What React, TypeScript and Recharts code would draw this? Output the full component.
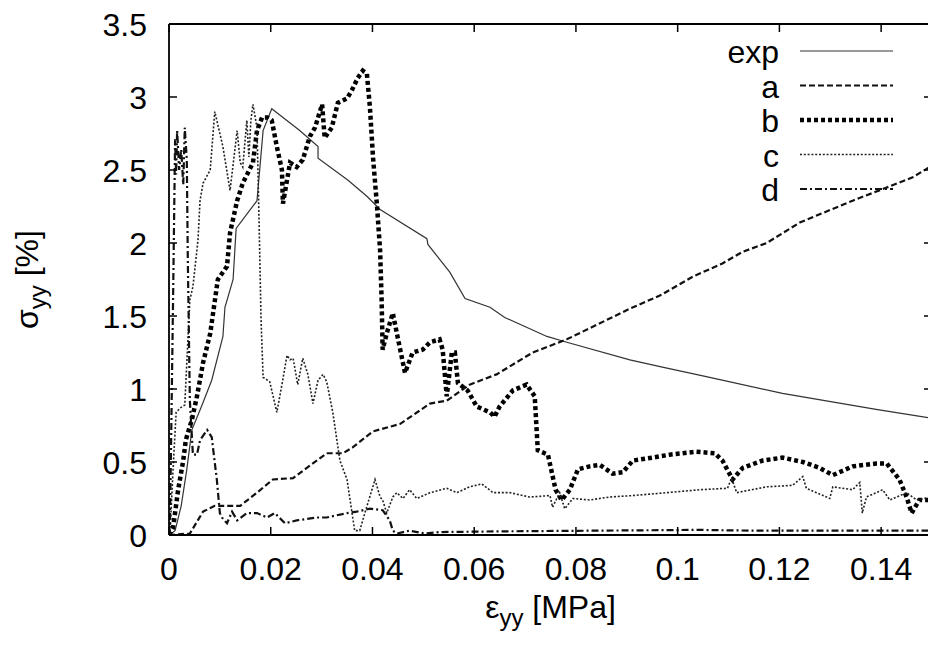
import React from "react";
import { LineChart, Line, XAxis, YAxis } from "recharts";

// tick values and labels
const xTicks = [0, 0.02, 0.04, 0.06, 0.08, 0.1, 0.12, 0.14];
const xTickLabels = ["0", "0.02", "0.04", "0.06", "0.08", "0.1", "0.12", "0.14"];
const yTicks = [0, 0.5, 1, 1.5, 2, 2.5, 3, 3.5];
const yTickLabels = ["0", "0.5", "1", "1.5", "2", "2.5", "3", "3.5"];

const seriesNames = ["exp", "a", "b", "c", "d"];

// [strain, stress]
const expPts: [number, number][] = [
  [0, 0], [0.0012, 0.03], [0.0024, 0.2], [0.0035, 0.45], [0.0045, 0.72], [0.0065, 0.89],
  [0.0084, 1.06], [0.0106, 1.36], [0.011, 1.56], [0.0126, 1.75], [0.0132, 2.1], [0.0173, 2.29],
  [0.0185, 2.77], [0.0202, 2.92], [0.0257, 2.77], [0.0293, 2.66], [0.0293, 2.58], [0.0352, 2.43],
  [0.0389, 2.32], [0.0415, 2.23], [0.0507, 2.03], [0.0509, 1.99], [0.0552, 1.8], [0.0582, 1.62],
  [0.0631, 1.56], [0.066, 1.49], [0.0743, 1.36], [0.0782, 1.32], [0.0906, 1.2], [0.097, 1.15],
  [0.1063, 1.08], [0.1206, 0.97], [0.139, 0.86], [0.15, 0.8],
];

const aPts: [number, number][] = [
  [0, 0], [0.0041, 0.01], [0.0067, 0.16], [0.009, 0.2], [0.014, 0.2], [0.0173, 0.29],
  [0.0204, 0.38], [0.0244, 0.39], [0.0271, 0.46], [0.031, 0.56], [0.0342, 0.56], [0.0361, 0.6],
  [0.0401, 0.71], [0.0454, 0.76], [0.0513, 0.9], [0.0546, 0.92], [0.0591, 1.03], [0.0644, 1.1],
  [0.0715, 1.25], [0.0782, 1.34], [0.0841, 1.44], [0.0906, 1.55], [0.0965, 1.64], [0.103, 1.77],
  [0.1088, 1.86], [0.1128, 1.94], [0.1175, 2.0], [0.124, 2.14], [0.1344, 2.29], [0.1411, 2.38],
  [0.1462, 2.45], [0.15, 2.53],
];

const bPts: [number, number][] = [
  [0, 0], [0.0008, 0.05], [0.0018, 0.31], [0.0028, 0.51], [0.0033, 0.65], [0.0045, 0.79],
  [0.0055, 0.95], [0.0067, 1.18], [0.0081, 1.38], [0.0096, 1.75], [0.0114, 1.84], [0.012, 2.07],
  [0.0134, 2.29], [0.0145, 2.41], [0.0165, 2.55], [0.0173, 2.77], [0.0183, 2.86], [0.0193, 2.86],
  [0.0202, 2.84], [0.0212, 2.66], [0.0222, 2.5], [0.0224, 2.27], [0.0238, 2.55], [0.0251, 2.52],
  [0.0263, 2.57], [0.0277, 2.73], [0.0287, 2.79], [0.0301, 2.95], [0.0306, 2.72], [0.032, 2.79],
  [0.0332, 2.96], [0.035, 2.99], [0.036, 3.05], [0.0371, 3.13], [0.0381, 3.18], [0.0389, 3.16],
  [0.0395, 2.93], [0.0401, 2.59], [0.0409, 2.25], [0.0415, 1.95], [0.0418, 1.61], [0.042, 1.27],
  [0.0428, 1.38], [0.044, 1.52], [0.0448, 1.38], [0.0464, 1.11], [0.0479, 1.25], [0.0499, 1.27],
  [0.0513, 1.32], [0.0532, 1.34], [0.0538, 1.27], [0.0546, 0.95], [0.0556, 1.25], [0.0562, 1.25],
  [0.0568, 1.04], [0.0587, 0.99], [0.0605, 0.88], [0.0631, 0.84], [0.064, 0.81], [0.065, 0.88],
  [0.0676, 0.99], [0.0703, 1.03], [0.0719, 0.95], [0.0725, 0.58], [0.0745, 0.55], [0.076, 0.31],
  [0.0772, 0.24], [0.0788, 0.31], [0.0804, 0.45], [0.0827, 0.47], [0.0847, 0.48], [0.0872, 0.42],
  [0.0892, 0.43], [0.0912, 0.51], [0.0951, 0.53], [0.0984, 0.55], [0.1037, 0.57], [0.1073, 0.56],
  [0.1088, 0.51], [0.1108, 0.38], [0.1128, 0.46], [0.1167, 0.51], [0.1206, 0.53], [0.1246, 0.5],
  [0.1279, 0.46], [0.1305, 0.41], [0.1344, 0.47], [0.1391, 0.49], [0.1411, 0.49], [0.1436, 0.38],
  [0.145, 0.26], [0.146, 0.15], [0.1475, 0.24], [0.15, 0.24],
];

const cPts: [number, number][] = [
  [0, 0], [0.0002, 0.01], [0.0008, 0.45], [0.0014, 0.84], [0.0022, 0.87], [0.0031, 0.89],
  [0.0041, 1.61], [0.0047, 1.7], [0.0057, 2.02], [0.0061, 2.29], [0.0067, 2.41], [0.0081, 2.5],
  [0.009, 2.9], [0.0106, 2.66], [0.012, 2.36], [0.0134, 2.77], [0.014, 2.55], [0.0145, 2.52],
  [0.0153, 2.84], [0.0157, 2.59], [0.0161, 2.84], [0.0165, 2.95], [0.0173, 2.79], [0.0177, 2.16],
  [0.0181, 1.47], [0.0185, 1.08], [0.0198, 1.05], [0.0212, 0.84], [0.0222, 1.03], [0.0232, 1.23],
  [0.0238, 1.2], [0.0244, 1.21], [0.0253, 1.03], [0.0263, 1.21], [0.0273, 1.1], [0.0283, 0.9],
  [0.0293, 1.06], [0.0303, 1.1], [0.031, 1.05], [0.0322, 0.84], [0.0336, 0.51], [0.035, 0.38],
  [0.0356, 0.24], [0.0365, 0.03], [0.0375, 0.03], [0.0385, 0.15], [0.0405, 0.38], [0.0415, 0.26],
  [0.042, 0.24], [0.0428, 0.15], [0.044, 0.26], [0.0448, 0.29], [0.046, 0.25], [0.0473, 0.31],
  [0.0487, 0.25], [0.0513, 0.29], [0.0546, 0.32], [0.0566, 0.29], [0.0591, 0.33], [0.0615, 0.35],
  [0.0637, 0.29], [0.067, 0.29], [0.0709, 0.26], [0.0749, 0.27], [0.0754, 0.19], [0.0768, 0.29],
  [0.0778, 0.18], [0.0794, 0.25], [0.0827, 0.24], [0.0866, 0.26], [0.0912, 0.27], [0.0978, 0.29],
  [0.1043, 0.31], [0.1098, 0.32], [0.1106, 0.39], [0.1116, 0.29], [0.1175, 0.33], [0.1226, 0.34],
  [0.1246, 0.4], [0.1253, 0.32], [0.1273, 0.29], [0.1299, 0.25], [0.1305, 0.33], [0.1344, 0.31],
  [0.1358, 0.36], [0.1363, 0.15], [0.1371, 0.26], [0.1403, 0.31], [0.1417, 0.24], [0.145, 0.29],
  [0.147, 0.24], [0.15, 0.26],
];

const dPts: [number, number][] = [
  [0, 0], [0.0002, 0.1], [0.0008, 1.61], [0.0012, 2.71], [0.0014, 2.47], [0.0016, 2.77],
  [0.002, 2.5], [0.0024, 2.64], [0.0028, 2.4], [0.0031, 2.79], [0.0035, 2.57], [0.0037, 1.88],
  [0.0041, 0.92], [0.0047, 0.55], [0.0055, 0.55], [0.0061, 0.65], [0.0075, 0.72], [0.0084, 0.67],
  [0.0094, 0.38], [0.01, 0.15], [0.0104, 0.12], [0.0114, 0.08], [0.0124, 0.16], [0.0134, 0.1],
  [0.0153, 0.15], [0.0173, 0.15], [0.0193, 0.12], [0.0208, 0.15], [0.0228, 0.08], [0.0251, 0.1],
  [0.0291, 0.12], [0.031, 0.12], [0.035, 0.15], [0.0369, 0.16], [0.0395, 0.18], [0.042, 0.17],
  [0.0434, 0.1], [0.044, 0.03], [0.0448, 0.01], [0.0473, 0.03], [0.0503, 0.01], [0.0532, 0.02],
  [0.065, 0.025], [0.0847, 0.03], [0.104, 0.035], [0.114, 0.03], [0.124, 0.03], [0.15, 0.03],
];

const toRows = (pts: [number, number][]) => pts.map(([x, y]) => ({ x, y }));

const FONT = '"Liberation Sans", Arial, Helvetica, sans-serif';

const styles: Record<string, { width: number; dash?: string; color: string }> = {
  exp: { width: 1.2, color: "#333" },
  a: { width: 2.2, dash: "6 3", color: "#111" },
  b: { width: 4.5, dash: "4 3", color: "#000" },
  c: { width: 1.6, dash: "2 1.8", color: "#222" },
  d: { width: 2.2, dash: "7 3 2 3", color: "#111" },
};

const seriesData: Record<string, { x: number; y: number }[]> = {
  exp: toRows(expPts),
  a: toRows(aPts),
  b: toRows(bPts),
  c: toRows(cPts),
  d: toRows(dPts),
};

const BottomTick = (props: any) => {
  const { x, y, payload } = props;
  const i = xTicks.indexOf(payload.value);
  return (
    <g>
      <line x1={x} y1={y} x2={x} y2={y - 8} stroke="#000" strokeWidth={1.5} />
      <text x={x} y={y + 45} textAnchor="middle" fontSize={32} fontFamily={FONT} fill="#000">
        {xTickLabels[i]}
      </text>
    </g>
  );
};

const TopTick = (props: any) => {
  const { x, y } = props;
  return <line x1={x} y1={y} x2={x} y2={y + 8} stroke="#000" strokeWidth={1.5} />;
};

const LeftTick = (props: any) => {
  const { x, y, payload } = props;
  const i = yTicks.indexOf(payload.value);
  return (
    <g>
      <line x1={x} y1={y} x2={x + 8} y2={y} stroke="#000" strokeWidth={1.5} />
      <text x={x - 22} y={y + 11.5} textAnchor="end" fontSize={32} fontFamily={FONT} fill="#000">
        {yTickLabels[i]}
      </text>
    </g>
  );
};

const RightTick = (props: any) => {
  const { x, y } = props;
  return <line x1={x} y1={y} x2={x - 8} y2={y} stroke="#000" strokeWidth={1.5} />;
};

const XTitle = (props: any) => {
  const vb = props.viewBox || { x: 169, y: 535, width: 763 };
  const cx = vb.x + vb.width / 2;
  return (
    <text x={cx} y={618} textAnchor="middle" fontSize={32} fontFamily={FONT} fill="#000">
      ε<tspan fontSize={24} dy={8}>yy</tspan>
      <tspan dy={-8}> [MPa]</tspan>
    </text>
  );
};

const YTitle = (props: any) => {
  const vb = props.viewBox || { y: 24, height: 511 };
  const cy = vb.y + vb.height / 2;
  return (
    <text
      x={38}
      y={cy}
      transform={`rotate(-90, 38, ${cy})`}
      textAnchor="middle"
      fontSize={32}
      fontFamily={FONT}
      fill="#000"
    >
      σ<tspan fontSize={24} dy={8}>yy</tspan>
      <tspan dy={-8}> [%]</tspan>
    </text>
  );
};

const LegendBox = () => (
  <svg
    width={928}
    height={646}
    style={{ position: "absolute", left: 0, top: 0, pointerEvents: "none" }}
  >
    {seriesNames.map((name, i) => {
      const cy = 51 + i * 34.5;
      const s = styles[name];
      return (
        <g key={name}>
          <text x={779} y={cy + 12} textAnchor="end" fontSize={32} fontFamily={FONT} fill="#000">
            {name}
          </text>
          <line
            x1={800}
            x2={893}
            y1={cy}
            y2={cy}
            stroke={s.color}
            strokeWidth={s.width}
            strokeDasharray={s.dash}
          />
        </g>
      );
    })}
  </svg>
);

export default function App() {
  return (
    <div
      style={{
        position: "absolute",
        left: 0,
        top: 0,
        width: 928,
        height: 646,
        overflow: "hidden",
        background: "#fff",
      }}
    >
      <LineChart width={940} height={646} margin={{ top: 0, right: 0, bottom: 0, left: 0 }}>
        <XAxis
          xAxisId="b"
          type="number"
          dataKey="x"
          domain={[0, 0.15]}
          ticks={xTicks}
          interval={0}
          allowDataOverflow
          height={111}
          tickSize={0}
          tickMargin={0}
          tickLine={false}
          axisLine={{ stroke: "#000", strokeWidth: 1.8 }}
          tick={<BottomTick />}
          label={<XTitle />}
        />
        <XAxis
          xAxisId="t"
          orientation="top"
          type="number"
          dataKey="x"
          domain={[0, 0.15]}
          ticks={xTicks}
          interval={0}
          allowDataOverflow
          height={24}
          tickSize={0}
          tickMargin={0}
          tickLine={false}
          axisLine={{ stroke: "#000", strokeWidth: 1.8 }}
          tick={<TopTick />}
        />
        <YAxis
          yAxisId="l"
          type="number"
          domain={[0, 3.5]}
          ticks={yTicks}
          interval={0}
          allowDataOverflow
          width={169}
          tickSize={0}
          tickMargin={0}
          tickLine={false}
          axisLine={{ stroke: "#000", strokeWidth: 1.8 }}
          tick={<LeftTick />}
          label={<YTitle />}
        />
        <YAxis
          yAxisId="r"
          orientation="right"
          type="number"
          domain={[0, 3.5]}
          ticks={yTicks}
          interval={0}
          allowDataOverflow
          width={8}
          tickSize={0}
          tickMargin={0}
          tickLine={false}
          axisLine={{ stroke: "#000", strokeWidth: 1.8 }}
          tick={<RightTick />}
        />
        {seriesNames.map((name) => {
          const s = styles[name];
          return (
            <Line
              key={name}
              xAxisId="b"
              yAxisId="l"
              data={seriesData[name]}
              dataKey="y"
              name={name}
              type="linear"
              stroke={s.color}
              strokeWidth={s.width}
              strokeDasharray={s.dash}
              dot={false}
              activeDot={false}
              isAnimationActive={false}
            />
          );
        })}
      </LineChart>
      <LegendBox />
    </div>
  );
}
